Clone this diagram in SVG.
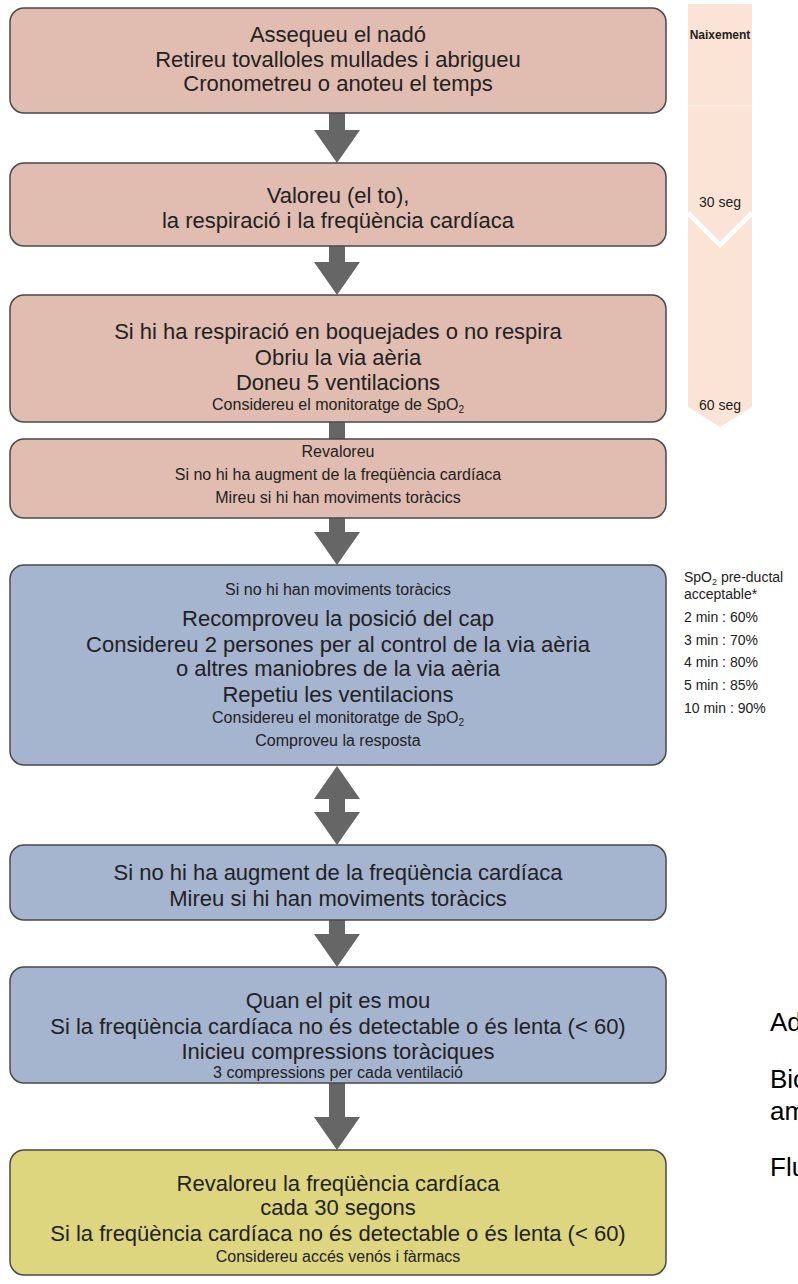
<svg xmlns="http://www.w3.org/2000/svg" width="798" height="1284" viewBox="0 0 798 1284">
<style>
  .box { stroke: #4a4a4a; stroke-width: 1.5; }
  .peach { fill: #e0bdb0; }
  .blue { fill: #a5b4cf; }
  .yellow { fill: #ddd67f; }
  .arrow { fill: #666666; }
  text { font-family: "Liberation Sans", Arial, sans-serif; fill: #222222; }
  .t { text-anchor: middle; font-size: 22px; }
  .s { text-anchor: middle; font-size: 16px; }
  .tl { text-anchor: middle; font-size: 14px; }
  .sp { font-size: 14px; }
  .side { font-size: 26px; fill: #000000; }
</style>
<rect width="798" height="1284" fill="#ffffff"/>

<g id="timeline">
  <polygon points="688,4 752,4 752,407 720,427 688,407" fill="#fbe4d5"/>
  <line x1="688" y1="106" x2="752" y2="106" stroke="#fdf0e7" stroke-width="1.5"/>
  <polyline points="688,213 720,245 752,213" fill="none" stroke="#ffffff" stroke-width="5"/>
  <text x="720" y="39" class="tl" style="font-size:12px;font-weight:bold">Naixement</text>
  <text x="720" y="207" class="tl">30 seg</text>
  <text x="720" y="410" class="tl">60 seg</text>
</g>

<g id="spo2">
  <text x="684" y="582" class="sp">SpO<tspan font-size="9" dy="3">2</tspan><tspan dy="-3"> pre-ductal</tspan></text>
  <text x="684" y="599" class="sp">acceptable*</text>
  <text x="684" y="622" class="sp">2 min : 60%</text>
  <text x="684" y="645" class="sp">3 min : 70%</text>
  <text x="684" y="667" class="sp">4 min : 80%</text>
  <text x="684" y="690" class="sp">5 min : 85%</text>
  <text x="684" y="713" class="sp">10 min : 90%</text>
</g>

<g id="connectors">
  <path class="arrow" d="M329,113 H345 V130 H360 L337,163 L314,130 H329 Z"/>
  <path class="arrow" d="M329,246 H345 V262 H360 L337,295 L314,262 H329 Z"/>
  <rect class="arrow" x="329" y="422" width="16" height="17"/>
  <path class="arrow" d="M329,518 H345 V532 H360 L337,565 L314,532 H329 Z"/>
  <path class="arrow" d="M337,766 L360,799 H345 V812 H360 L337,845 L314,812 H329 V799 H314 Z"/>
  <path class="arrow" d="M329,920 H345 V934 H360 L337,967 L314,934 H329 Z"/>
  <path class="arrow" d="M329,1083 H345 V1117 H360 L337,1150 L314,1117 H329 Z"/>
</g>

<g id="box1">
  <rect class="box peach" x="10" y="8" width="656" height="105" rx="14"/>
  <text x="338" y="42" class="t">Assequeu el nadó</text>
  <text x="338" y="67" class="t">Retireu tovalloles mullades i abrigueu</text>
  <text x="338" y="91" class="t">Cronometreu o anoteu el temps</text>
</g>

<g id="box2">
  <rect class="box peach" x="10" y="163" width="656" height="83" rx="14"/>
  <text x="338" y="203" class="t">Valoreu (el to),</text>
  <text x="338" y="228" class="t">la respiració i la freqüència cardíaca</text>
</g>

<g id="box3">
  <rect class="box peach" x="10" y="295" width="656" height="127" rx="14"/>
  <text x="338" y="339" class="t">Si hi ha respiració en boquejades o no respira</text>
  <text x="338" y="365" class="t">Obriu la via aèria</text>
  <text x="338" y="390" class="t">Doneu 5 ventilacions</text>
  <text x="338" y="410" class="s">Considereu el monitoratge de SpO<tspan font-size="10" dy="3">2</tspan></text>
</g>

<g id="box4">
  <rect class="box peach" x="10" y="439" width="656" height="79" rx="14"/>
  <text x="338" y="457" class="s">Revaloreu</text>
  <text x="338" y="480" class="s">Si no hi ha augment de la freqüència cardíaca</text>
  <text x="338" y="503" class="s">Mireu si hi han moviments toràcics</text>
</g>

<g id="box5">
  <rect class="box blue" x="10" y="565" width="656" height="200" rx="14"/>
  <text x="338" y="595" class="s">Si no hi han moviments toràcics</text>
  <text x="338" y="626" class="t">Recomproveu la posició del cap</text>
  <text x="338" y="652" class="t">Considereu 2 persones per al control de la via aèria</text>
  <text x="338" y="676" class="t">o altres maniobres de la via aèria</text>
  <text x="338" y="702" class="t">Repetiu les ventilacions</text>
  <text x="338" y="723" class="s">Considereu el monitoratge de SpO<tspan font-size="10" dy="3">2</tspan></text>
  <text x="338" y="746" class="s">Comproveu la resposta</text>
</g>

<g id="box6">
  <rect class="box blue" x="10" y="845" width="656" height="75" rx="14"/>
  <text x="338" y="880" class="t">Si no hi ha augment de la freqüència cardíaca</text>
  <text x="338" y="906" class="t">Mireu si hi han moviments toràcics</text>
</g>

<g id="box7">
  <rect class="box blue" x="10" y="967" width="656" height="116" rx="14"/>
  <text x="338" y="1008" class="t">Quan el pit es mou</text>
  <text x="338" y="1034" class="t">Si la freqüència cardíaca no és detectable o és lenta (&lt; 60)</text>
  <text x="338" y="1059" class="t">Inicieu compressions toràciques</text>
  <text x="338" y="1078" class="s">3 compressions per cada ventilació</text>
</g>

<g id="box8">
  <rect class="box yellow" x="10" y="1150" width="656" height="125" rx="14"/>
  <text x="338" y="1191" class="t">Revaloreu la freqüència cardíaca</text>
  <text x="338" y="1215" class="t">cada 30 segons</text>
  <text x="338" y="1241" class="t">Si la freqüència cardíaca no és detectable o és lenta (&lt; 60)</text>
  <text x="338" y="1262" class="s">Considereu accés venós i fàrmacs</text>
</g>

<g id="side-notes">
  <text x="770" y="1031" class="side">Ad</text>
  <text x="770" y="1088" class="side">Bic</text>
  <text x="770" y="1120" class="side">am</text>
  <text x="770" y="1176" class="side">Flu</text>
</g>
</svg>
